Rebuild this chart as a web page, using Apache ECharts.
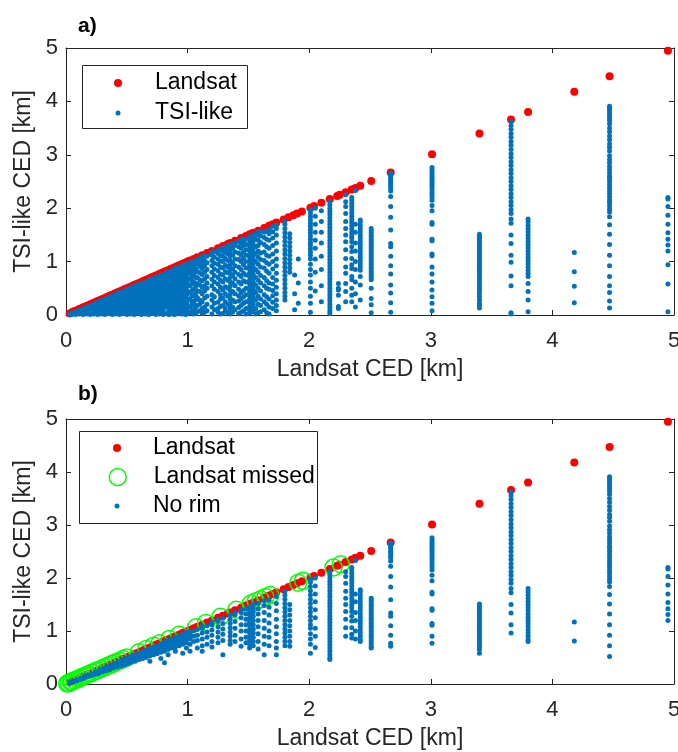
<!DOCTYPE html>
<html>
<head>
<meta charset="utf-8">
<title>Landsat vs TSI-like CED</title>
<script src="https://cdn.jsdelivr.net/npm/echarts@6/dist/echarts.min.js"></script>
<style>
  html, body { margin: 0; padding: 0; background: #fff; }
  #main { width: 678px; height: 752px; }
</style>
</head>
<body>
<div id="main"></div>
<script>
// Landsat CED [km]; the Landsat markers sit on the 1:1 line
const landsatCED = [0.03, 0.05, 0.06, 0.07, 0.08, 0.10, 0.11, 0.12, 0.14, 0.15, 0.17, 0.18, 0.20, 0.22,
  0.24, 0.26, 0.28, 0.30, 0.32, 0.34, 0.36, 0.38, 0.40, 0.42, 0.44, 0.46, 0.48, 0.50, 0.52, 0.54, 0.56,
  0.58, 0.60, 0.62, 0.64, 0.66, 0.68, 0.70, 0.72, 0.74, 0.76, 0.78, 0.80, 0.82, 0.84, 0.86, 0.88, 0.90,
  0.92, 0.94, 0.96, 0.98, 1.00, 1.02, 1.05, 1.08, 1.12, 1.16, 1.20, 1.25, 1.29, 1.33, 1.35, 1.39, 1.44,
  1.48, 1.51, 1.54, 1.58, 1.63, 1.67, 1.70, 1.73, 1.79, 1.83, 1.87, 1.90, 1.94, 2.01, 2.04, 2.10, 2.17,
  2.23, 2.25, 2.30, 2.35, 2.38, 2.42, 2.51, 2.67, 3.01, 3.40, 3.66, 3.80, 4.18, 4.47, 4.95];

// Landsat objects missed (panel b)
const missedCED = [0.01, 0.02, 0.04, 0.05, 0.07, 0.09, 0.11, 0.13, 0.16, 0.18, 0.21, 0.24, 0.26, 0.29,
  0.32, 0.35, 0.38, 0.41, 0.44, 0.47, 0.50, 0.60, 0.66, 0.72, 0.77, 0.85, 0.93, 1.07, 1.15, 1.27, 1.40,
  1.52, 1.56, 1.60, 1.64, 1.68, 1.91, 1.95, 2.20, 2.26];

// TSI-like CED per Landsat object: [landsat CED, [tsi-like CEDs]] (panel a)
const tsiCols = [
  [0.03, [0.01, 0.02]],
  [0.05, [0.01, 0.03, 0.04]],
  [0.08, [0.01, 0.04, 0.07]],
  [0.11, [0.02, 0.05, 0.09]],
  [0.14, [0.01, 0.04, 0.08, 0.12]],
  [0.17, [0.02, 0.06, 0.10, 0.15]],
  [0.20, [0.01, 0.05, 0.09, 0.13, 0.18]],
  [0.23, [0.02, 0.06, 0.11, 0.16, 0.21]],
  [0.26, [0.01, 0.05, 0.09, 0.14, 0.19, 0.24]],
  [0.29, [0.02, 0.07, 0.12, 0.17, 0.22, 0.27]],
  [0.32, [0.01, 0.05, 0.10, 0.15, 0.20, 0.25, 0.30]],
  [0.35, [0.03, 0.08, 0.13, 0.18, 0.23, 0.28, 0.33]],
  [0.38, [0.01, 0.06, 0.11, 0.16, 0.21, 0.26, 0.31, 0.36]],
  [0.41, [0.02, 0.07, 0.12, 0.18, 0.23, 0.29, 0.34, 0.39]],
  [0.44, [0.01, 0.05, 0.10, 0.16, 0.21, 0.27, 0.32, 0.37, 0.42]],
  [0.47, [0.03, 0.08, 0.14, 0.19, 0.25, 0.30, 0.36, 0.41, 0.45]],
  [0.50, [0.01, 0.06, 0.12, 0.17, 0.23, 0.28, 0.34, 0.39, 0.44, 0.48]],
  [0.53, [0.02, 0.07, 0.13, 0.19, 0.24, 0.30, 0.36, 0.41, 0.46, 0.51]],
  [0.56, [0.01, 0.05, 0.11, 0.17, 0.22, 0.28, 0.34, 0.40, 0.45, 0.50, 0.54]],
  [0.59, [0.03, 0.09, 0.15, 0.21, 0.27, 0.33, 0.39, 0.44, 0.50, 0.55, 0.57]],
  [0.62, [0.01, 0.06, 0.12, 0.18, 0.24, 0.30, 0.36, 0.42, 0.48, 0.54, 0.59]],
  [0.65, [0.02, 0.08, 0.14, 0.20, 0.27, 0.33, 0.39, 0.45, 0.51, 0.57, 0.62]],
  [0.68, [0.01, 0.05, 0.11, 0.17, 0.23, 0.29, 0.36, 0.42, 0.48, 0.54, 0.60, 0.65]],
  [0.71, [0.03, 0.09, 0.15, 0.22, 0.28, 0.34, 0.41, 0.47, 0.53, 0.59, 0.64, 0.68]],
  [0.74, [0.01, 0.06, 0.12, 0.19, 0.25, 0.32, 0.38, 0.45, 0.51, 0.57, 0.63, 0.68, 0.71]],
  [0.77, [0.02, 0.08, 0.14, 0.21, 0.28, 0.34, 0.41, 0.47, 0.54, 0.60, 0.66, 0.71, 0.74]],
  [0.80, [0.01, 0.05, 0.11, 0.18, 0.25, 0.31, 0.38, 0.45, 0.52, 0.58, 0.65, 0.71, 0.76]],
  [0.83, [0.03, 0.16, 0.22, 0.29, 0.36, 0.43, 0.50, 0.57, 0.63, 0.70, 0.76, 0.80]],
  [0.845, [0.01, 0.09, 0.13, 0.25, 0.33, 0.39, 0.46, 0.53, 0.60, 0.66, 0.73, 0.79]],
  [0.86, [0.02, 0.07, 0.20, 0.27, 0.34, 0.41, 0.48, 0.55, 0.62, 0.69, 0.75, 0.81]],
  [0.875, [0.04, 0.10, 0.15, 0.23, 0.30, 0.37, 0.44, 0.52, 0.58, 0.65, 0.72, 0.78, 0.84]],
  [0.89, [0.01, 0.05, 0.12, 0.25, 0.32, 0.39, 0.47, 0.54, 0.61, 0.68, 0.75, 0.82, 0.86]],
  [0.905, [0.02, 0.07, 0.14, 0.21, 0.28, 0.35, 0.41, 0.49, 0.56, 0.63, 0.70, 0.77, 0.84, 0.88]],
  [0.92, [0.03, 0.10, 0.17, 0.30, 0.45, 0.52, 0.60, 0.67, 0.74, 0.81, 0.88]],
  [0.935, [0.05, 0.12, 0.19, 0.26, 0.33, 0.40, 0.48, 0.55, 0.63, 0.70, 0.77, 0.84, 0.90]],
  [0.95, [0.02, 0.08, 0.22, 0.29, 0.37, 0.44, 0.58, 0.66, 0.73, 0.80, 0.87, 0.91]],
  [0.965, [0.03, 0.10, 0.17, 0.25, 0.32, 0.40, 0.47, 0.54, 0.62, 0.69, 0.76, 0.83, 0.89, 0.93]],
  [0.98, [0.01, 0.06, 0.13, 0.27, 0.35, 0.50, 0.57, 0.65, 0.72, 0.80, 0.88, 0.94]],
  [0.995, [0.02, 0.09, 0.18, 0.23, 0.31, 0.39, 0.46, 0.54, 0.61, 0.68, 0.76, 0.84, 0.91, 0.96]],
  [1.02, [0.04, 0.15, 0.30, 0.42, 0.55, 0.68, 0.78, 0.86, 0.93, 0.98]],
  [1.035, [0.07, 0.19, 0.26, 0.36, 0.46, 0.58, 0.64, 0.72, 0.82, 0.89, 0.95, 1.00]],
  [1.05, [0.02, 0.10, 0.22, 0.36, 0.48, 0.62, 0.74, 0.90, 1.00]],
  [1.065, [0.03, 0.14, 0.28, 0.40, 0.52, 0.60, 0.70, 0.80, 0.86, 0.96, 1.02]],
  [1.08, [0.06, 0.18, 0.33, 0.45, 0.58, 0.70, 0.82, 0.95, 1.03]],
  [1.10, [0.08, 0.20, 0.28, 0.44, 0.56, 0.66, 0.79, 0.91, 1.00, 1.06]],
  [1.12, [0.03, 0.12, 0.25, 0.40, 0.52, 0.64, 0.76, 0.87, 0.96, 1.05, 1.09]],
  [1.14, [0.05, 0.15, 0.32, 0.45, 0.55, 0.68, 0.80, 0.92, 1.02, 1.11]],
  [1.16, [0.08, 0.20, 0.35, 0.50, 0.60, 0.72, 0.85, 0.98, 1.10]],
  [1.20, [0.02, 0.15, 0.28, 0.38, 0.55, 0.67, 0.80, 0.92, 1.02, 1.12, 1.17]],
  [1.22, [0.10, 0.22, 0.34, 0.48, 0.62, 0.74, 0.86, 0.97, 1.08, 1.18]],
  [1.25, [0.05, 0.12, 0.24, 0.44, 0.58, 0.70, 0.83, 0.95, 1.05, 1.15, 1.21]],
  [1.27, [0.02, 0.16, 0.30, 0.38, 0.52, 0.65, 0.77, 0.90, 1.01, 1.12, 1.23]],
  [1.29, [0.03, 0.18, 0.32, 0.47, 0.62, 0.75, 0.88, 1.00, 1.10, 1.20, 1.26]],
  [1.31, [0.07, 0.12, 0.25, 0.40, 0.53, 0.68, 0.81, 0.93, 1.06, 1.17, 1.27]],
  [1.33, [0.04, 0.20, 0.35, 0.50, 0.65, 0.79, 0.90, 1.02, 1.14, 1.24, 1.30]],
  [1.35, [0.02, 0.08, 0.14, 0.22, 0.30, 0.38, 0.46, 0.54, 0.62, 0.70, 0.78, 0.86, 0.94, 1.02, 1.10, 1.18, 1.26, 1.31]],
  [1.37, [0.05, 0.15, 0.28, 0.44, 0.60, 0.74, 0.86, 0.98, 1.12, 1.24, 1.33]],
  [1.39, [0.10, 0.25, 0.40, 0.55, 0.68, 0.80, 0.92, 1.05, 1.18, 1.30, 1.35]],
  [1.42, [0.03, 0.14, 0.26, 0.36, 0.48, 0.62, 0.76, 0.90, 1.04, 1.16, 1.28, 1.38]],
  [1.44, [0.05, 0.18, 0.30, 0.42, 0.58, 0.72, 0.85, 1.00, 1.12, 1.25, 1.35, 1.40]],
  [1.46, [0.08, 0.22, 0.34, 0.46, 0.64, 0.78, 0.94, 1.06, 1.18, 1.30, 1.38, 1.43]],
  [1.48, [0.02, 0.12, 0.25, 0.38, 0.50, 0.62, 0.75, 0.88, 1.00, 1.12, 1.22, 1.32, 1.42]],
  [1.51, [0.03, 0.09, 0.16, 0.23, 0.30, 0.37, 0.44, 0.51, 0.58, 0.65, 0.72, 0.79, 0.86, 0.93, 1.00, 1.07, 1.14, 1.21, 1.28, 1.35, 1.42, 1.47]],
  [1.54, [0.06, 0.13, 0.20, 0.27, 0.34, 0.41, 0.48, 0.55, 0.62, 0.69, 0.76, 0.83, 0.90, 0.97, 1.04, 1.11, 1.18, 1.25, 1.32, 1.39, 1.45, 1.50]],
  [1.56, [0.02, 0.12, 0.28, 0.42, 0.56, 0.70, 0.85, 1.00, 1.15, 1.28, 1.42, 1.52]],
  [1.58, [0.04, 0.20, 0.35, 0.50, 0.65, 0.80, 0.95, 1.08, 1.20, 1.30, 1.40, 1.50, 1.55]],
  [1.60, [0.06, 0.18, 0.30, 0.45, 0.60, 0.74, 0.90, 1.04, 1.16, 1.36, 1.48, 1.57]],
  [1.63, [0.10, 0.25, 0.38, 0.55, 0.70, 0.88, 1.02, 1.18, 1.32, 1.45, 1.55]],
  [1.65, [0.04, 0.20, 0.34, 0.50, 0.64, 0.82, 0.98, 1.12, 1.28, 1.42, 1.58]],
  [1.67, [0.02, 0.15, 0.30, 0.48, 0.60, 0.78, 0.95, 1.10, 1.25, 1.40, 1.52, 1.60]],
  [1.70, [0.12, 0.24, 0.36, 0.46, 0.58, 0.70, 0.86, 1.00, 1.14, 1.30, 1.44, 1.56, 1.66]],
  [1.73, [0.08, 0.18, 0.28, 0.40, 0.52, 0.65, 0.78, 0.92, 1.05, 1.20, 1.35, 1.50, 1.62, 1.68]],
  [1.80, [0.28, 0.35, 0.42, 0.50, 0.58, 0.66, 0.74, 0.82, 0.90, 0.98, 1.06, 1.14, 1.22, 1.30, 1.38, 1.46, 1.54, 1.62, 1.70, 1.76]],
  [1.84, [0.80, 0.88, 0.96, 1.04, 1.12, 1.20, 1.28, 1.36, 1.44, 1.52]],
  [1.88, [0.10, 0.40, 0.75]],
  [1.91, [0.22, 0.60, 1.05]],
  [2.01, [0.05, 0.22, 0.35, 0.50, 0.62, 0.75, 0.85, 0.95, 1.05, 1.12, 1.18, 1.24, 1.30, 1.36, 1.42, 1.48, 1.54, 1.60, 1.66, 1.72, 1.78, 1.84, 1.90, 1.96]],
  [2.05, [0.45, 0.80, 1.05, 1.25, 1.40, 1.55, 1.70, 1.85, 2.00]],
  [2.10, [0.25, 0.55, 0.85, 1.10, 1.35, 1.55, 1.75, 1.95]],
  [2.17, [0.03, 0.08, 0.14, 0.20, 0.26, 0.32, 0.38, 0.44, 0.50, 0.56, 0.62, 0.68, 0.74, 0.80, 0.86, 0.92, 0.98, 1.04, 1.10, 1.16, 1.22, 1.28, 1.34, 1.40, 1.46, 1.52, 1.58, 1.64, 1.70, 1.76, 1.82, 1.88, 1.94, 2.00, 2.06, 2.12]],
  [2.24, [0.12, 0.16, 0.37, 0.47, 0.50, 0.59]],
  [2.30, [0.25, 0.44, 0.59, 0.78, 0.90, 1.06, 1.22, 1.37, 1.50, 1.62, 1.75, 1.90, 2.03, 2.12, 2.25]],
  [2.35, [0.25, 0.37, 0.50, 0.66, 0.72, 0.87, 0.94, 1.06, 1.19, 1.28, 1.37, 1.44, 1.49, 1.55, 1.61, 1.67, 1.73, 1.79, 1.85, 1.91, 1.97, 2.03, 2.09, 2.15, 2.20]],
  [2.38, [0.15, 0.40, 0.62, 0.85, 1.00, 1.20, 1.35, 1.55, 1.70, 2.33]],
  [2.42, [0.28, 0.56, 0.72, 0.84, 0.90, 0.96, 1.02, 1.08, 1.14, 1.20, 1.26, 1.32, 1.38, 1.44, 1.50, 1.56, 1.62, 1.68, 1.74, 1.78]],
  [2.51, [0.04, 0.19, 0.31, 0.50, 0.66, 0.70, 0.74, 0.78, 0.82, 0.86, 0.90, 0.94, 0.98, 1.02, 1.06, 1.10, 1.14, 1.18, 1.22, 1.26, 1.30, 1.34, 1.38, 1.42, 1.46, 1.50, 1.54, 1.58, 1.62]],
  [2.67, [0.05, 0.23, 0.41, 0.56, 0.77, 0.92, 1.10, 1.28, 1.34, 1.59, 1.83, 2.03, 2.22, 2.32, 2.38, 2.42, 2.46, 2.50, 2.54, 2.58, 2.62, 2.66]],
  [3.01, [0.08, 0.22, 0.34, 0.47, 0.62, 0.77, 0.90, 1.11, 1.14, 1.39, 1.42, 1.70, 1.73, 1.95, 2.05, 2.15, 2.20, 2.25, 2.30, 2.35, 2.40, 2.44, 2.48, 2.52, 2.56, 2.60, 2.64, 2.68, 2.72, 2.76]],
  [3.40, [0.13, 0.18, 0.22, 0.28, 0.34, 0.40, 0.45, 0.50, 0.55, 0.60, 0.65, 0.70, 0.75, 0.79, 0.83, 0.87, 0.91, 0.95, 0.99, 1.03, 1.07, 1.11, 1.15, 1.19, 1.23, 1.27, 1.31, 1.35, 1.39, 1.43, 1.47, 1.51]],
  [3.66, [0.02, 0.04, 0.55, 0.73, 0.99, 1.12, 1.34, 1.50, 1.72, 1.80, 1.90, 1.97, 2.05, 2.12, 2.20, 2.27, 2.35, 2.42, 2.50, 2.57, 2.65, 2.72, 2.80, 2.87, 2.95, 3.02, 3.10, 3.18, 3.25, 3.33, 3.40, 3.48, 3.55, 3.62]],
  [3.80, [0.06, 0.28, 0.44, 0.59, 0.72, 0.78, 0.84, 0.90, 0.96, 1.02, 1.08, 1.14, 1.20, 1.26, 1.32, 1.38, 1.44, 1.50, 1.56, 1.62, 1.68, 1.74, 1.80]],
  [4.18, [0.23, 0.54, 0.81, 1.17]],
  [4.47, [0.13, 0.26, 0.42, 0.55, 0.72, 0.92, 1.12, 1.32, 1.51, 1.69, 1.84, 1.93, 1.98, 2.04, 2.10, 2.15, 2.21, 2.27, 2.32, 2.38, 2.44, 2.50, 2.55, 2.60, 2.66, 2.72, 2.78, 2.85, 2.91, 2.98, 3.07, 3.14, 3.20, 3.28, 3.35, 3.43, 3.50, 3.58, 3.64, 3.69, 3.74, 3.79, 3.83, 3.87, 3.91]],
  [4.95, [0.06, 0.58, 0.94, 1.20, 1.31, 1.42, 1.54, 1.70, 1.87, 2.03, 2.17, 2.20]]
];

// No-rim TSI-like CED per Landsat object (panel b)
const noRimCols = [
  [0.03, [0.02, 0.03]],
  [0.06, [0.04, 0.06]],
  [0.09, [0.06, 0.08]],
  [0.12, [0.09, 0.11]],
  [0.15, [0.11, 0.14]],
  [0.18, [0.14, 0.17]],
  [0.21, [0.16, 0.19]],
  [0.24, [0.18, 0.21, 0.23]],
  [0.27, [0.20, 0.23, 0.26]],
  [0.30, [0.23, 0.26, 0.29]],
  [0.33, [0.25, 0.29, 0.32]],
  [0.36, [0.27, 0.31, 0.35]],
  [0.39, [0.30, 0.34, 0.38]],
  [0.42, [0.32, 0.36, 0.40]],
  [0.45, [0.34, 0.38, 0.42, 0.44]],
  [0.48, [0.36, 0.40, 0.44, 0.47]],
  [0.51, [0.38, 0.42, 0.46, 0.50]],
  [0.54, [0.41, 0.45, 0.49, 0.53]],
  [0.57, [0.43, 0.47, 0.51, 0.55]],
  [0.60, [0.46, 0.50, 0.54, 0.58]],
  [0.63, [0.48, 0.52, 0.56, 0.61]],
  [0.66, [0.50, 0.55, 0.60, 0.64]],
  [0.69, [0.43, 0.53, 0.58, 0.63, 0.67]],
  [0.72, [0.55, 0.60, 0.65, 0.70]],
  [0.75, [0.57, 0.62, 0.67, 0.72]],
  [0.78, [0.48, 0.60, 0.65, 0.70, 0.76]],
  [0.81, [0.40, 0.62, 0.68, 0.73, 0.79]],
  [0.84, [0.55, 0.65, 0.71, 0.76, 0.82]],
  [0.87, [0.68, 0.74, 0.79, 0.85]],
  [0.90, [0.62, 0.70, 0.76, 0.82, 0.88]],
  [0.93, [0.72, 0.79, 0.85, 0.91]],
  [0.96, [0.58, 0.75, 0.82, 0.88, 0.94]],
  [0.99, [0.68, 0.78, 0.85, 0.91, 0.97]],
  [1.02, [0.62, 0.75, 0.85, 0.93, 0.99]],
  [1.05, [0.80, 0.90, 1.00]],
  [1.08, [0.68, 0.82, 0.92, 1.03]],
  [1.12, [0.62, 0.72, 0.85, 0.96, 1.05, 1.09]],
  [1.16, [0.75, 0.88, 0.98, 1.10]],
  [1.20, [0.70, 0.80, 0.92, 1.02, 1.12, 1.17]],
  [1.25, [0.78, 0.88, 0.98, 1.08, 1.18, 1.21]],
  [1.29, [0.55, 0.82, 0.94, 1.04, 1.14, 1.24]],
  [1.35, [0.75, 0.82, 0.90, 0.98, 1.06, 1.14, 1.22, 1.30]],
  [1.39, [0.80, 0.92, 1.05, 1.18, 1.30, 1.35]],
  [1.44, [0.71, 0.85, 1.00, 1.12, 1.25, 1.35, 1.40]],
  [1.48, [0.78, 0.88, 1.00, 1.12, 1.22, 1.32, 1.42]],
  [1.51, [0.68, 0.75, 0.82, 0.89, 0.96, 1.03, 1.10, 1.17, 1.24, 1.31, 1.38, 1.45]],
  [1.54, [0.72, 0.80, 0.88, 0.96, 1.04, 1.12, 1.20, 1.28, 1.36, 1.44, 1.50]],
  [1.58, [0.66, 0.80, 0.95, 1.08, 1.20, 1.32, 1.42, 1.52]],
  [1.63, [0.55, 0.75, 0.90, 1.05, 1.20, 1.35, 1.48, 1.57]],
  [1.67, [0.72, 0.88, 1.00, 1.15, 1.30, 1.45, 1.58]],
  [1.73, [0.55, 0.68, 0.80, 0.95, 1.08, 1.22, 1.38, 1.52, 1.65]],
  [1.80, [0.72, 0.80, 0.88, 0.96, 1.04, 1.12, 1.20, 1.28, 1.36, 1.44, 1.52, 1.60, 1.68, 1.75]],
  [1.84, [0.71, 0.80, 0.90, 1.00, 1.10, 1.20, 1.30, 1.40, 1.50]],
  [2.01, [0.58, 0.75, 0.85, 0.95, 1.05, 1.12, 1.20, 1.28, 1.36, 1.44, 1.52, 1.60, 1.68, 1.76, 1.84, 1.92, 1.98]],
  [2.05, [0.69, 0.90, 1.05, 1.25, 1.40, 1.55, 1.70, 1.85, 2.00]],
  [2.17, [0.46, 0.49, 0.55, 0.62, 0.68, 0.74, 0.80, 0.86, 0.92, 0.98, 1.04, 1.10, 1.16, 1.22, 1.28, 1.34, 1.40, 1.46, 1.52, 1.58, 1.64, 1.70, 1.76, 1.82, 1.88, 1.94, 2.00, 2.06, 2.12]],
  [2.30, [0.90, 1.06, 1.22, 1.37, 1.50, 1.62, 1.75, 1.90, 2.03, 2.12]],
  [2.35, [0.87, 0.94, 1.06, 1.19, 1.28, 1.37, 1.44, 1.49, 1.55, 1.61, 1.67, 1.73, 1.79, 1.85, 1.91, 1.97, 2.03, 2.09, 2.15, 2.20]],
  [2.38, [0.85, 1.00, 1.20, 1.35, 1.55, 1.70, 2.33]],
  [2.42, [0.80, 0.84, 0.90, 0.96, 1.02, 1.08, 1.14, 1.20, 1.26, 1.32, 1.38, 1.44, 1.50, 1.56, 1.62, 1.68, 1.74, 1.78]],
  [2.51, [0.68, 0.70, 0.74, 0.78, 0.82, 0.86, 0.90, 0.94, 0.98, 1.02, 1.06, 1.10, 1.14, 1.18, 1.22, 1.26, 1.30, 1.34, 1.38, 1.42, 1.46, 1.50, 1.54, 1.58, 1.62]],
  [2.67, [0.71, 0.77, 0.92, 1.10, 1.28, 1.34, 1.59, 1.83, 2.03, 2.22, 2.32, 2.38, 2.42, 2.46, 2.50, 2.54, 2.58, 2.62, 2.66]],
  [3.01, [0.77, 0.90, 1.11, 1.14, 1.39, 1.42, 1.70, 1.73, 1.95, 2.05, 2.15, 2.20, 2.25, 2.30, 2.35, 2.40, 2.44, 2.48, 2.52, 2.56, 2.60, 2.64, 2.68, 2.72, 2.76]],
  [3.40, [0.58, 0.65, 0.70, 0.75, 0.79, 0.83, 0.87, 0.91, 0.95, 0.99, 1.03, 1.07, 1.11, 1.15, 1.19, 1.23, 1.27, 1.31, 1.35, 1.39, 1.43, 1.47, 1.51]],
  [3.66, [0.96, 1.12, 1.34, 1.50, 1.72, 1.80, 1.90, 1.97, 2.05, 2.12, 2.20, 2.27, 2.35, 2.42, 2.50, 2.57, 2.65, 2.72, 2.80, 2.87, 2.95, 3.02, 3.10, 3.18, 3.25, 3.33, 3.40, 3.48, 3.55, 3.62]],
  [3.80, [0.80, 0.84, 0.90, 0.96, 1.02, 1.08, 1.14, 1.20, 1.26, 1.32, 1.38, 1.44, 1.50, 1.56, 1.62, 1.68, 1.74, 1.80]],
  [4.18, [0.81, 1.17]],
  [4.47, [0.52, 0.72, 0.92, 1.12, 1.32, 1.51, 1.69, 1.84, 1.93, 1.98, 2.04, 2.10, 2.15, 2.21, 2.27, 2.32, 2.38, 2.44, 2.50, 2.55, 2.60, 2.66, 2.72, 2.78, 2.85, 2.91, 2.98, 3.07, 3.14, 3.20, 3.28, 3.35, 3.43, 3.50, 3.58, 3.64, 3.69, 3.74, 3.79, 3.83, 3.87, 3.91]],
  [4.95, [1.20, 1.31, 1.42, 1.54, 1.70, 1.87, 2.03, 2.17, 2.20]]
];

const axisTicks = [0, 1, 2, 3, 4, 5];

const FONT = '"Liberation Sans", Arial, Helvetica, sans-serif';
const AXIS_COLOR = '#262626';
const RED = '#ff0000';
const BLUE = '#0072bd';
const GREEN = '#00ff00';

const toPoints = cols => cols.flatMap(([x, ys]) => ys.map(y => [x, y]));
const onLine = vals => vals.map(v => [v, v]);

const grids = [
  { left: 66, top: 48, width: 608, height: 267, outerBoundsMode: 'none' },
  { left: 66, top: 419, width: 608, height: 265, outerBoundsMode: 'none' }
];

function baseAxis(gridIndex, position, labels) {
  return {
    type: 'value',
    gridIndex: gridIndex,
    position: position,
    min: axisTicks[0],
    max: axisTicks[axisTicks.length - 1],
    interval: 1,
    axisLine: { show: true, onZero: false, lineStyle: { color: AXIS_COLOR, width: 1 } },
    axisTick: { show: true, inside: true, length: 5, lineStyle: { color: AXIS_COLOR } },
    splitLine: { show: false },
    axisLabel: labels ? {
      show: true, color: AXIS_COLOR, fontSize: 22, fontFamily: FONT,
      margin: position === 'bottom' ? 15 : 8, showMinLabel: true, showMaxLabel: true
    } : { show: false }
  };
}

const xAxes = [];
const yAxes = [];
[0, 1].forEach(g => {
  xAxes.push(Object.assign(baseAxis(g, 'bottom', true), {
    name: 'Landsat CED [km]', nameLocation: 'middle', nameGap: 43,
    nameTextStyle: { color: AXIS_COLOR, fontSize: 23, fontFamily: FONT }
  }));
  xAxes.push(baseAxis(g, 'top', false));
  yAxes.push(Object.assign(baseAxis(g, 'left', true), {
    name: 'TSI-like CED [km]', nameLocation: 'middle', nameGap: 22,
    nameTextStyle: { color: AXIS_COLOR, fontSize: 23, fontFamily: FONT }
  }));
  yAxes.push(baseAxis(g, 'right', false));
});

// the legend aligns the icon's own box to `left`: marker centre = left + size/2,
// text starts at marker centre + iconW/2 + 5
function legendItem(cx, cy, iconW, size, name, style) {
  return {
    left: cx - size / 2, top: cy - 12, padding: 0, orient: 'vertical',
    itemWidth: iconW, itemHeight: size, selectedMode: false,
    textStyle: { color: '#000', fontSize: 23, fontFamily: FONT, lineHeight: 24 },
    data: [Object.assign({ name: name, icon: 'circle' }, style ? { itemStyle: style } : {})]
  };
}

const chart = echarts.init(document.getElementById('main'));
chart.setOption({
  animation: false,
  backgroundColor: '#fff',
  title: [
    { text: 'a)', left: 78, top: 16, padding: 0, textStyle: { fontSize: 21, fontWeight: 'bold', color: '#000', fontFamily: FONT } },
    { text: 'b)', left: 78, top: 384, padding: 0, textStyle: { fontSize: 21, fontWeight: 'bold', color: '#000', fontFamily: FONT } }
  ],
  grid: grids,
  xAxis: xAxes,
  yAxis: yAxes,
  graphic: [
    { type: 'rect', z: 3, shape: { x: 82.5, y: 65.5, width: 165, height: 63 }, style: { fill: '#fff', stroke: AXIS_COLOR, lineWidth: 1 } },
    { type: 'rect', z: 3, shape: { x: 79.5, y: 431.5, width: 238, height: 92 }, style: { fill: '#fff', stroke: AXIS_COLOR, lineWidth: 1 } }
  ],
  legend: [
    legendItem(118, 83, 64, 8, 'Landsat'),
    legendItem(118, 113, 64, 5, 'TSI-like'),
    legendItem(117, 448, 62, 8, 'Landsat'),
    legendItem(117, 477, 62, 17, 'Landsat missed', { color: 'rgba(0,0,0,0)', borderColor: GREEN, borderWidth: 1.5 }),
    legendItem(117, 506, 62, 5, 'No rim')
  ],
  series: [
    {
      name: 'Landsat', type: 'scatter', xAxisIndex: 0, yAxisIndex: 0,
      symbolSize: 8, itemStyle: { color: RED, opacity: 1 }, data: onLine(landsatCED)
    },
    {
      name: 'TSI-like', type: 'scatter', xAxisIndex: 0, yAxisIndex: 0,
      symbolSize: 5, itemStyle: { color: BLUE, opacity: 1 }, data: toPoints(tsiCols)
    },
    {
      name: 'Landsat', type: 'scatter', xAxisIndex: 2, yAxisIndex: 2,
      symbolSize: 8, itemStyle: { color: RED, opacity: 1 }, data: onLine(landsatCED)
    },
    {
      name: 'Landsat missed', type: 'scatter', xAxisIndex: 2, yAxisIndex: 2,
      symbolSize: 17,
      itemStyle: { color: 'rgba(0,0,0,0)', borderColor: GREEN, borderWidth: 1.5, opacity: 1 },
      data: onLine(missedCED)
    },
    {
      name: 'No rim', type: 'scatter', xAxisIndex: 2, yAxisIndex: 2,
      symbolSize: 5, itemStyle: { color: BLUE, opacity: 1 }, data: toPoints(noRimCols)
    }
  ]
});
</script>
</body>
</html>
